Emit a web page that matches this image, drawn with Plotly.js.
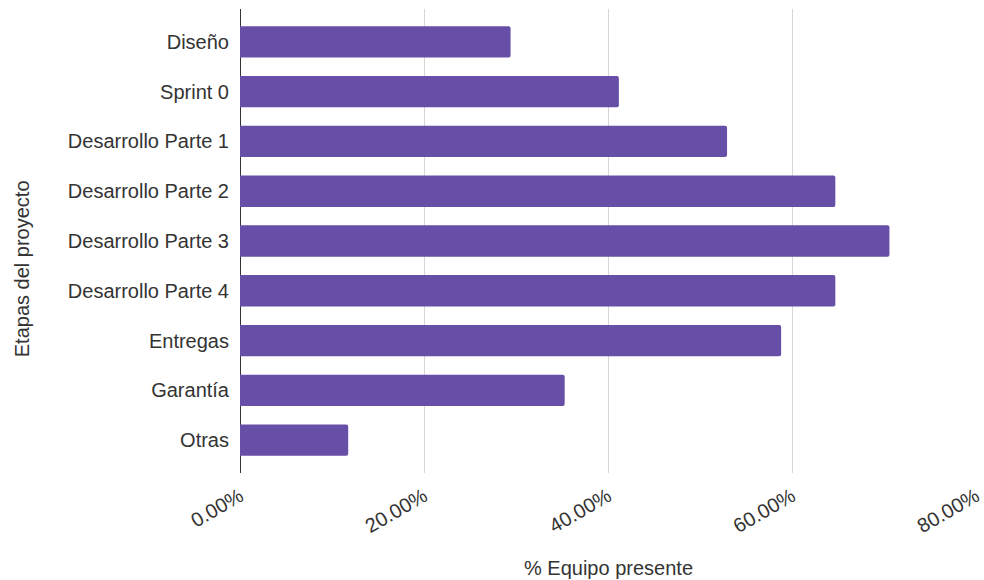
<!DOCTYPE html>
<html>
<head>
<meta charset="utf-8">
<script src="https://cdn.plot.ly/plotly-3.0.1.min.js"></script>
<style>html,body{margin:0;padding:0;background:#fff;}#chart{width:984px;height:580px;}</style>
</head>
<body>
<div id="chart"></div>
<script>
const categories = ["Diseño", "Sprint 0", "Desarrollo Parte 1", "Desarrollo Parte 2", "Desarrollo Parte 3", "Desarrollo Parte 4", "Entregas", "Garantía", "Otras"];
const values = [29.41, 41.18, 52.94, 64.71, 70.59, 64.71, 58.82, 35.29, 11.76];
const xTicks = [0, 20, 40, 60, 80];
const xTickLabels = ["0.00%", "20.00%", "40.00%", "60.00%", "80.00%"];
const xTitle = "% Equipo presente";
const yTitle = "Etapas del proyecto";

const font = "Liberation Sans, Arial, sans-serif";
const fs = 20;

Plotly.newPlot("chart", [{
  type: "bar",
  orientation: "h",
  y: categories,
  x: values,
  marker: {color: "#674ea7", cornerradius: 2},
  hoverinfo: "x+y"
}], {
  width: 984, height: 580,
  margin: {l: 240, r: 8, t: 9, b: 107},
  paper_bgcolor: "#fff", plot_bgcolor: "#fff",
  font: {family: font, size: fs, color: "#333"},
  bargap: 0.37,
  showlegend: false,
  xaxis: {
    range: [0, 80],
    tickvals: xTicks, ticktext: xTickLabels,
    tickangle: -30,
    showgrid: true, gridcolor: "#d6d6d6", gridwidth: 1,
    zeroline: true, zerolinecolor: "#333", zerolinewidth: 1,
    showline: false, ticks: "outside", ticklen: 3, tickcolor: "rgba(0,0,0,0)",
    tickfont: {family: font, size: fs, color: "#333"},
    fixedrange: true
  },
  yaxis: {
    type: "category",
    categoryorder: "array", categoryarray: categories,
    range: [8.66, -0.66],
    showgrid: false, zeroline: false, showline: false,
    ticks: "outside", ticklen: 6, tickcolor: "rgba(0,0,0,0)",
    tickfont: {family: font, size: fs, color: "#333"},
    fixedrange: true
  },
  annotations: [
    {text: xTitle, xref: "paper", yref: "paper", x: 0.5, y: -0.205, xanchor: "center", yanchor: "middle", showarrow: false, font: {family: font, size: fs, color: "#333"}},
    {text: yTitle, xref: "paper", yref: "paper", x: -0.297, y: 0.44, xanchor: "center", yanchor: "middle", textangle: -90, showarrow: false, font: {family: font, size: fs, color: "#333"}}
  ]
}, {displayModeBar: false, staticPlot: true});
</script>
</body>
</html>
